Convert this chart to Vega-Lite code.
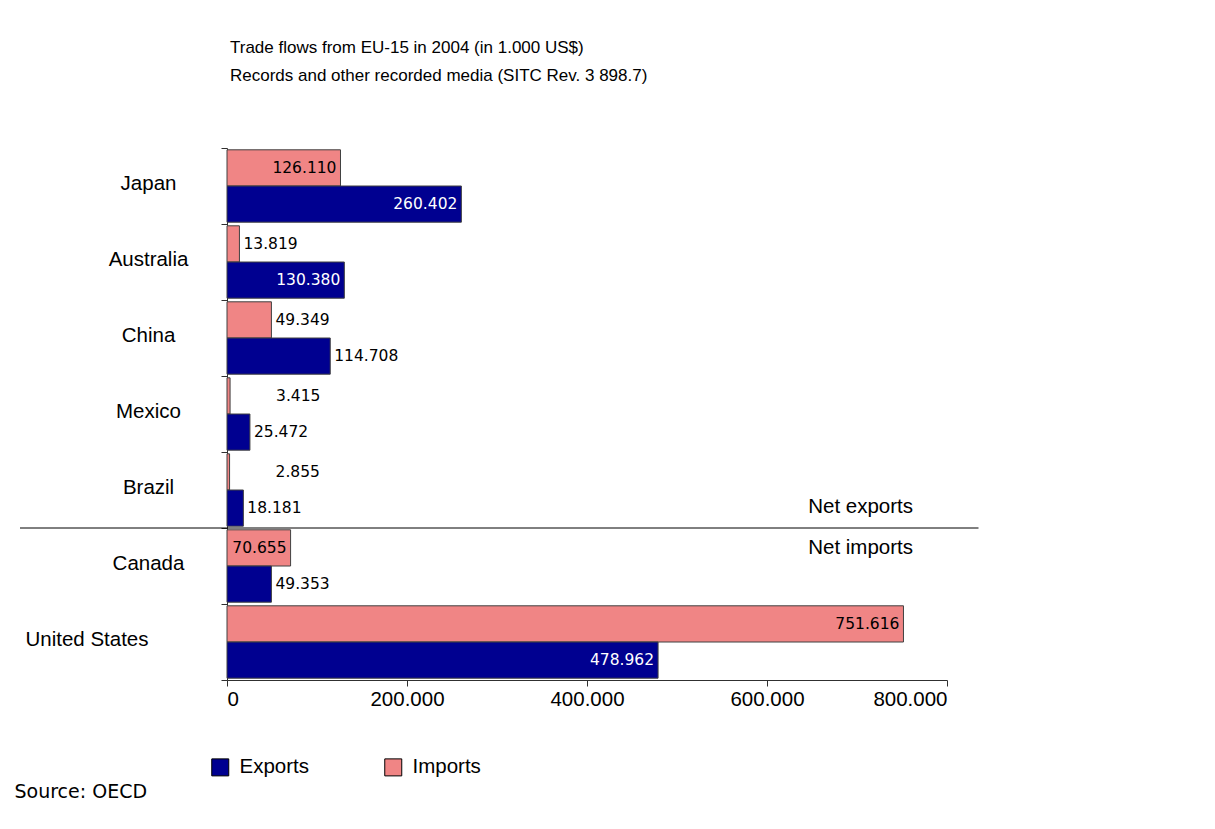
{
  "$schema": "https://vega.github.io/schema/vega-lite/v6.json",
  "width": 720,
  "height": 532,
  "autosize": {"type": "none"},
  "padding": {"left": 227, "top": 148, "right": 268, "bottom": 149},
  "background": "white",
  "config": {
    "view": {"stroke": null},
    "locale": {"number": {"decimal": ",", "thousands": ".", "grouping": [3], "currency": ["", ""]}},
    "font": "Liberation Sans"
  },
  "title": {
    "text": ["Trade flows from EU-15 in 2004 (in 1.000 US$)", "Records and other recorded media (SITC Rev. 3 898.7)"],
    "anchor": "start",
    "frame": "group",
    "font": "Liberation Sans",
    "fontSize": 17,
    "fontWeight": "normal",
    "color": "black",
    "lineHeight": 28,
    "offset": 53,
    "dx": 3
  },
  "data": {
    "values": [
      {"country": "Japan", "flow": "Imports", "value": 126110},
      {"country": "Japan", "flow": "Exports", "value": 260402},
      {"country": "Australia", "flow": "Imports", "value": 13819},
      {"country": "Australia", "flow": "Exports", "value": 130380},
      {"country": "China", "flow": "Imports", "value": 49349},
      {"country": "China", "flow": "Exports", "value": 114708},
      {"country": "Mexico", "flow": "Imports", "value": 3415},
      {"country": "Mexico", "flow": "Exports", "value": 25472},
      {"country": "Brazil", "flow": "Imports", "value": 2855},
      {"country": "Brazil", "flow": "Exports", "value": 18181},
      {"country": "Canada", "flow": "Imports", "value": 70655},
      {"country": "Canada", "flow": "Exports", "value": 49353},
      {"country": "United States", "flow": "Imports", "value": 751616},
      {"country": "United States", "flow": "Exports", "value": 478962}
    ]
  },
  "layer": [
    {
      "mark": {"type": "bar", "stroke": "#404040", "strokeWidth": 1},
      "encoding": {
        "x": {
          "field": "value", "type": "quantitative",
          "scale": {"domain": [0, 800000], "nice": false, "zero": true},
          "axis": {
            "values": [0, 200000, 400000, 600000, 800000],
            "format": ",d",
            "grid": false,
            "domainColor": "#303030",
            "tickColor": "#303030",
            "tickSize": 6,
            "labelFont": "Liberation Sans",
            "labelFontSize": 20.5,
            "labelColor": "black",
            "labelPadding": 3,
            "title": "Source: OECD",
            "titleFont": "DejaVu Sans",
            "titleFontSize": 19,
            "titleFontWeight": "normal",
            "titleColor": "black",
            "titleAlign": "left",
            "titleAnchor": "start",
            "titleBaseline": "alphabetic",
            "titleX": -213,
            "titleY": 117
          }
        },
        "y": {
          "field": "country", "type": "nominal",
          "scale": {"domain": ["Japan", "Australia", "China", "Mexico", "Brazil", "Canada", "United States"], "paddingInner": 0, "paddingOuter": 0},
          "axis": {
            "title": null,
            "tickBand": "extent",
            "tickSize": 6,
            "tickColor": "#303030",
            "domainColor": "#303030",
            "labelFont": "Liberation Sans",
            "labelFontSize": 20.5,
            "labelColor": "black",
            "labelAlign": {"condition": {"test": "datum.value === 'United States'", "value": "right"}, "value": "center"},
            "labelPadding": 73,
            "labelOffset": -3
          }
        },
        "yOffset": {
          "field": "flow", "type": "nominal",
          "scale": {"domain": ["Imports", "Exports"], "paddingOuter": 0.05, "paddingInner": 0}
        },
        "color": {
          "field": "flow", "type": "nominal",
          "scale": {"domain": ["Exports", "Imports"], "range": ["#000090", "#F08585"]},
          "legend": {
            "title": null,
            "orient": "none",
            "direction": "horizontal",
            "legendX": -17,
            "legendY": 609,
            "symbolType": "square",
            "symbolSize": 289,
            "symbolStrokeColor": "black",
            "symbolStrokeWidth": 1,
            "symbolOpacity": 1,
            "labelFont": "Liberation Sans",
            "labelFontSize": 20.5,
            "labelColor": "black",
            "labelOffset": 9,
            "columnPadding": 73
          }
        }
      }
    },
    {
      "transform": [{"filter": "datum.value > 120000 || (datum.country === 'Canada' && datum.flow === 'Imports')"}],
      "mark": {"type": "text", "align": "right", "baseline": "middle", "dx": -4, "font": "DejaVu Sans", "fontSize": 15.5},
      "encoding": {
        "x": {"field": "value", "type": "quantitative"},
        "y": {"field": "country", "type": "nominal"},
        "yOffset": {"field": "flow", "type": "nominal"},
        "text": {"field": "value", "type": "quantitative", "format": ",d"},
        "color": {"condition": {"test": "datum.flow === 'Exports'", "value": "white"}, "value": "black"}
      }
    },
    {
      "transform": [{"filter": "!(datum.value > 120000 || (datum.country === 'Canada' && datum.flow === 'Imports')) && datum.value >= 10000"}],
      "mark": {"type": "text", "align": "left", "baseline": "middle", "dx": 4, "font": "DejaVu Sans", "fontSize": 15.5, "color": "black"},
      "encoding": {
        "x": {"field": "value", "type": "quantitative"},
        "y": {"field": "country", "type": "nominal"},
        "yOffset": {"field": "flow", "type": "nominal"},
        "text": {"field": "value", "type": "quantitative", "format": ",d"}
      }
    },
    {
      "transform": [{"filter": "datum.value < 10000"}],
      "mark": {"type": "text", "align": "left", "baseline": "middle", "dx": 46, "font": "DejaVu Sans", "fontSize": 15.5, "color": "black"},
      "encoding": {
        "x": {"field": "value", "type": "quantitative"},
        "y": {"field": "country", "type": "nominal"},
        "yOffset": {"field": "flow", "type": "nominal"},
        "text": {"field": "value", "type": "quantitative", "format": ",d"}
      }
    },
    {
      "data": {"values": [{"label": "separator"}]},
      "mark": {"type": "rule", "color": "black", "strokeWidth": 1},
      "encoding": {
        "x": {"datum": -230000},
        "x2": {"datum": 835000},
        "y": {"datum": "Canada", "bandPosition": 0}
      }
    },
    {
      "data": {"values": [{"label": "Net exports", "country": "Brazil"}]},
      "mark": {"type": "text", "align": "center", "baseline": "middle", "dy": 17, "font": "Liberation Sans", "fontSize": 20.5, "color": "black"},
      "encoding": {
        "x": {"datum": 704000},
        "y": {"field": "country", "type": "nominal"},
        "text": {"field": "label"}
      }
    },
    {
      "data": {"values": [{"label": "Net imports", "country": "Canada"}]},
      "mark": {"type": "text", "align": "center", "baseline": "middle", "dy": -18, "font": "Liberation Sans", "fontSize": 20.5, "color": "black"},
      "encoding": {
        "x": {"datum": 704000},
        "y": {"field": "country", "type": "nominal"},
        "text": {"field": "label"}
      }
    }
  ]
}
